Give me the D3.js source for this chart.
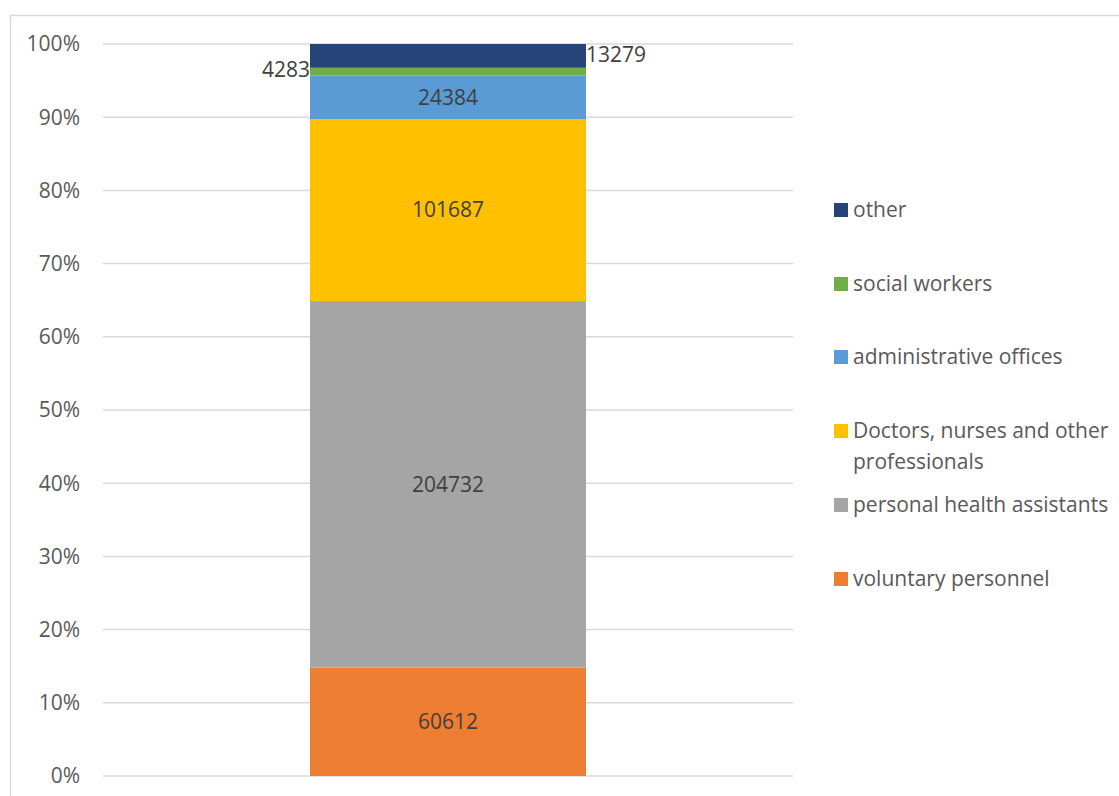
<!DOCTYPE html>
<html>
<head>
<meta charset="utf-8">
<script src="https://cdn.jsdelivr.net/npm/d3@7.9.0/dist/d3.min.js"></script>
<style>
  body { margin: 0; background: #fff; }
  svg { font-family: "Open Sans", sans-serif; }
</style>
</head>
<body>
<svg width="1119" height="796"></svg>
<script>
// bottom to top
const categories = ['voluntary personnel', 'personal health assistants', 'Doctors, nurses and other professionals',
  'administrative offices', 'social workers', 'other'];
const values = [60612, 204732, 101687, 24384, 4283, 13279];
const colors = ['#ED7D31', '#A5A5A5', '#FFC000', '#5B9BD5', '#70AD47', '#264478'];
const yTicks = [0, 0.1, 0.2, 0.3, 0.4, 0.5, 0.6, 0.7, 0.8, 0.9, 1];

const svg = d3.select('svg');
const total = d3.sum(values);
const fs = 21;

// chart border (runs off the right and bottom)
svg.append('rect')
  .attr('x', 10.5).attr('y', 15.5)
  .attr('width', 1200).attr('height', 900)
  .attr('fill', 'none').attr('stroke', '#d9d9d9').attr('stroke-width', 1.5);

const y = d3.scaleLinear().domain([0, 1]).range([776, 44]);

// gridlines
svg.append('g').selectAll('line')
  .data(yTicks)
  .join('line')
  .attr('x1', 103).attr('x2', 793)
  .attr('y1', d => y(d)).attr('y2', d => y(d))
  .attr('stroke', '#d9d9d9').attr('stroke-width', 1.5);

// axis labels
svg.append('g').selectAll('text')
  .data(yTicks)
  .join('text')
  .attr('x', 80).attr('y', d => y(d))
  .attr('dy', '0.35em')
  .attr('text-anchor', 'end')
  .attr('fill', '#595959')
  .attr('font-size', fs)
  .text(d => d3.format('.0%')(d));

// stacked segments
let cum = 0;
const segs = values.map((v, i) => {
  const s = { key: categories[i], v, y0: cum / total, y1: (cum + v) / total, color: colors[i] };
  cum += v;
  return s;
});

const bx = 310, bw = 276;
svg.append('g').selectAll('rect')
  .data(segs)
  .join('rect')
  .attr('x', bx)
  .attr('width', bw)
  .attr('y', d => y(d.y1))
  .attr('height', d => y(d.y0) - y(d.y1))
  .attr('fill', d => d.color);

// value labels
segs.forEach((d, i) => {
  const t = svg.append('text')
    .attr('fill', '#404040')
    .attr('font-size', fs)
    .attr('dy', '0.35em')
    .text(d.v);
  if (d.key === 'social workers') {
    t.attr('x', bx).attr('y', y(d.y1) + 2).attr('text-anchor', 'end');
  } else if (d.key === 'other') {
    t.attr('x', bx + bw).attr('y', y(d.y1) + 11).attr('text-anchor', 'start');
  } else {
    t.attr('x', bx + bw / 2).attr('y', y((d.y0 + d.y1) / 2)).attr('text-anchor', 'middle');
  }
});

// legend, top to bottom
const legendRows = [
  { label: ['other'], color: colors[5], y: 210 },
  { label: ['social workers'], color: colors[4], y: 284 },
  { label: ['administrative offices'], color: colors[3], y: 357 },
  { label: ['Doctors, nurses and other', 'professionals'], color: colors[2], y: 431 },
  { label: ['personal health assistants'], color: colors[1], y: 505 },
  { label: ['voluntary personnel'], color: colors[0], y: 579 }
];
const lg = svg.append('g').selectAll('g').data(legendRows).join('g');
lg.append('rect')
  .attr('x', 834).attr('y', d => d.y - 7)
  .attr('width', 14).attr('height', 14)
  .attr('fill', d => d.color);
lg.append('text')
  .attr('x', 853)
  .attr('font-size', fs)
  .attr('fill', '#595959')
  .selectAll('tspan')
  .data(d => d.label.map((l, j) => ({ l, y: d.y + j * 31 })))
  .join('tspan')
  .attr('x', 853)
  .attr('y', d => d.y)
  .attr('dy', '0.35em')
  .text(d => d.l);
</script>
</body>
</html>
